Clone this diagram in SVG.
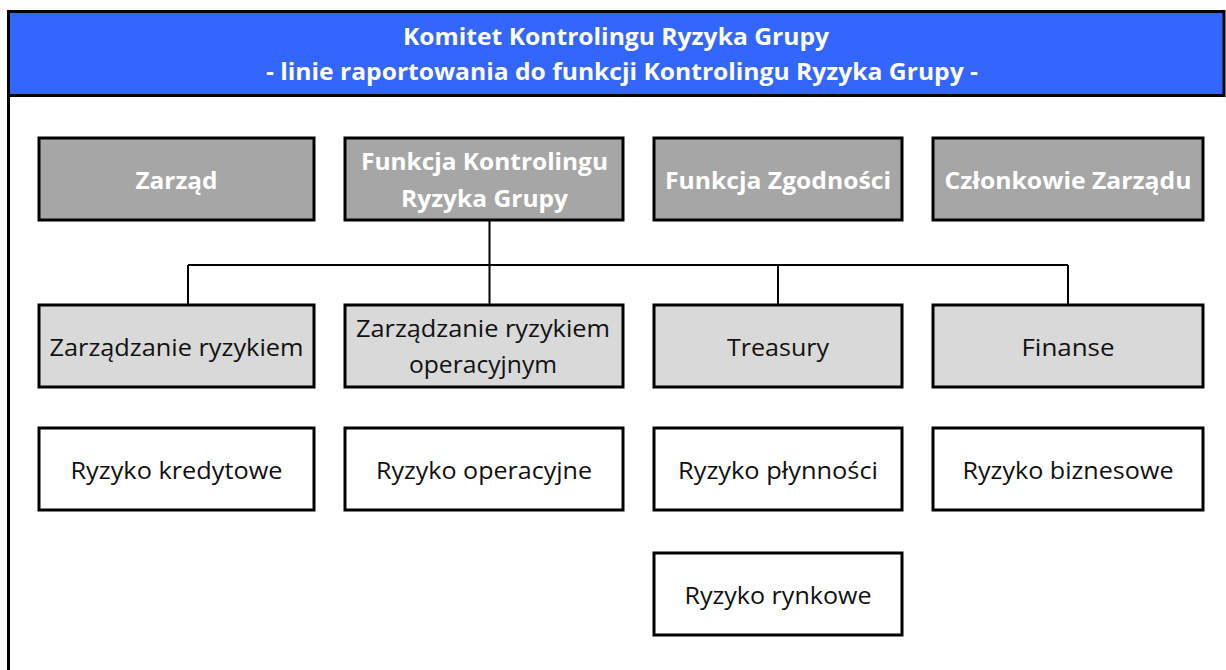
<svg xmlns="http://www.w3.org/2000/svg" width="1226" height="670" viewBox="0 0 1226 670">
<style>
text{font-family:"Open Sans","Noto Sans","Liberation Sans",sans-serif;font-size:24px;text-anchor:middle}
.hd{fill:#fff;font-weight:bold}
.t1{fill:#fff;font-weight:bold}
.tx{fill:#111}
.b1{fill:#a6a6a6;stroke:#000;stroke-width:3}
.b2{fill:#d9d9d9;stroke:#000;stroke-width:3}
.b3{fill:#fff;stroke:#000;stroke-width:3}
.cn{fill:none;stroke:#000;stroke-width:2}
</style>
<rect width="1226" height="670" fill="#fff"/>
<g id="frame">
<line x1="8.5" y1="11" x2="8.5" y2="670" stroke="#000" stroke-width="3"/>
<rect x="8.5" y="11.5" width="1215.5" height="84" fill="#3366ff" stroke="#000" stroke-width="3"/>
<text class="hd" x="616" y="45" textLength="426" lengthAdjust="spacingAndGlyphs">Komitet Kontrolingu Ryzyka Grupy</text>
<text class="hd" x="622" y="80" textLength="712" lengthAdjust="spacingAndGlyphs">- linie raportowania do funkcji Kontrolingu Ryzyka Grupy -</text>
</g>
<g id="connectors">
<path class="cn" d="M489.5 220 V265 M188 265 H1068 M188 265 V305 M489.5 265 V305 M778 265 V305 M1068 265 V305"/>
</g>
<g id="zarzad"><rect class="b1" x="39" y="138" width="275" height="82"/><text class="t1" x="176.5" y="189" textLength="82" lengthAdjust="spacingAndGlyphs">Zarząd</text></g>
<g id="funkcja-kontrolingu"><rect class="b1" x="345" y="138" width="278" height="82"/><text class="t1" x="484.5" y="170" textLength="247" lengthAdjust="spacingAndGlyphs">Funkcja Kontrolingu</text><text class="t1" x="484.5" y="207" textLength="167" lengthAdjust="spacingAndGlyphs">Ryzyka Grupy</text></g>
<g id="funkcja-zgodnosci"><rect class="b1" x="654" y="138" width="248" height="82"/><text class="t1" x="778" y="189" textLength="226" lengthAdjust="spacingAndGlyphs">Funkcja Zgodności</text></g>
<g id="czlonkowie-zarzadu"><rect class="b1" x="933" y="138" width="270" height="82"/><text class="t1" x="1068" y="189" textLength="247" lengthAdjust="spacingAndGlyphs">Członkowie Zarządu</text></g>
<g id="zarzadzanie-ryzykiem"><rect class="b2" x="39" y="305" width="275" height="82"/><text class="tx" x="176.5" y="356" textLength="254" lengthAdjust="spacingAndGlyphs">Zarządzanie ryzykiem</text></g>
<g id="zarzadzanie-ryzykiem-operacyjnym"><rect class="b2" x="345" y="305" width="278" height="82"/><text class="tx" x="483" y="337" textLength="254" lengthAdjust="spacingAndGlyphs">Zarządzanie ryzykiem</text><text class="tx" x="483" y="373" textLength="148" lengthAdjust="spacingAndGlyphs">operacyjnym</text></g>
<g id="treasury"><rect class="b2" x="654" y="305" width="248" height="82"/><text class="tx" x="778" y="356" textLength="102" lengthAdjust="spacingAndGlyphs">Treasury</text></g>
<g id="finanse"><rect class="b2" x="933" y="305" width="270" height="82"/><text class="tx" x="1068" y="356" textLength="93" lengthAdjust="spacingAndGlyphs">Finanse</text></g>
<g id="ryzyko-kredytowe"><rect class="b3" x="39" y="428" width="275" height="82"/><text class="tx" x="176.5" y="479" textLength="212" lengthAdjust="spacingAndGlyphs">Ryzyko kredytowe</text></g>
<g id="ryzyko-operacyjne"><rect class="b3" x="345" y="428" width="278" height="82"/><text class="tx" x="484" y="479" textLength="216" lengthAdjust="spacingAndGlyphs">Ryzyko operacyjne</text></g>
<g id="ryzyko-plynnosci"><rect class="b3" x="654" y="428" width="248" height="82"/><text class="tx" x="778" y="479" textLength="200" lengthAdjust="spacingAndGlyphs">Ryzyko płynności</text></g>
<g id="ryzyko-biznesowe"><rect class="b3" x="933" y="428" width="270" height="82"/><text class="tx" x="1068" y="479" textLength="211" lengthAdjust="spacingAndGlyphs">Ryzyko biznesowe</text></g>
<g id="ryzyko-rynkowe"><rect class="b3" x="654" y="553" width="248" height="82"/><text class="tx" x="778" y="604" textLength="187" lengthAdjust="spacingAndGlyphs">Ryzyko rynkowe</text></g>
</svg>
